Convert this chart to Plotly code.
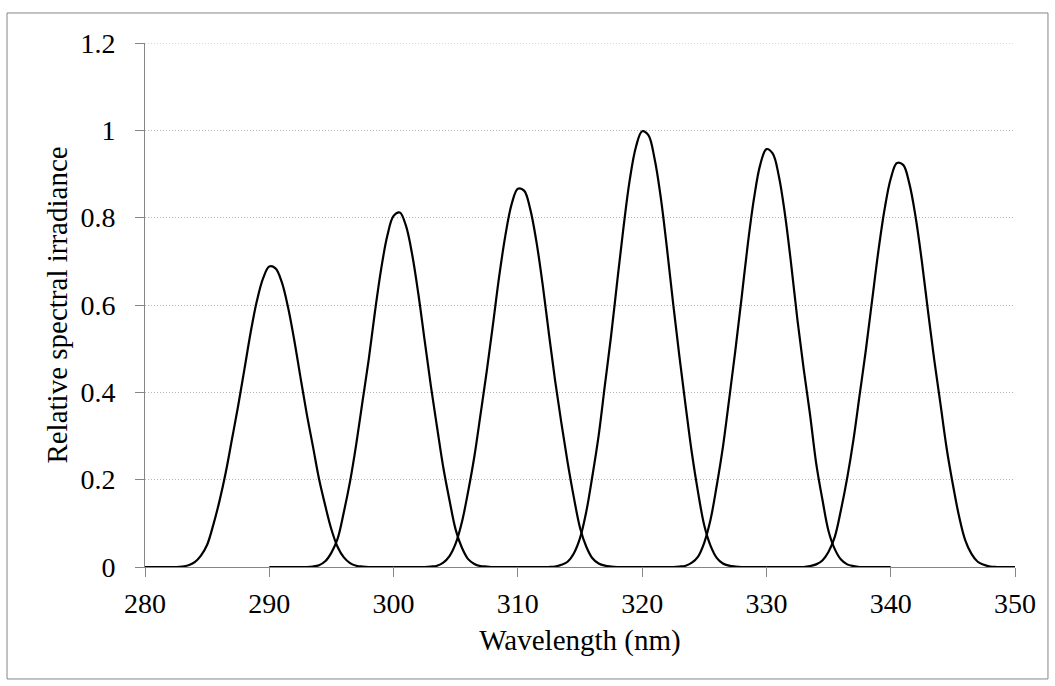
import plotly.graph_objects as go

# Wavelength grids (nm), 0.5 nm spacing, one 20 nm window per band
wl_1 = [280 + 0.5 * i for i in range(41)]
wl_2 = [290 + 0.5 * i for i in range(41)]
wl_3 = [300 + 0.5 * i for i in range(41)]
wl_4 = [310 + 0.5 * i for i in range(41)]
wl_5 = [320 + 0.5 * i for i in range(41)]
wl_6 = [330 + 0.5 * i for i in range(41)]

# Relative spectral irradiance of each band
irr_1 = [0, 0, 0, 0, 0, 0,
         0.001, 0.004, 0.011, 0.026, 0.051, 0.097, 0.152, 0.217, 0.293, 0.370,
         0.453, 0.537, 0.609, 0.661, 0.688, 0.684, 0.653, 0.596, 0.521, 0.436,
         0.353, 0.278, 0.202, 0.141, 0.086, 0.046, 0.022, 0.009, 0.003, 0.001,
         0, 0, 0, 0, 0]
irr_2 = [0, 0, 0, 0, 0, 0, 0,
         0.001, 0.004, 0.013, 0.033, 0.065, 0.126, 0.196, 0.282, 0.379, 0.475,
         0.584, 0.682, 0.759, 0.804, 0.812, 0.781, 0.715, 0.624, 0.519, 0.415,
         0.320, 0.228, 0.153, 0.085, 0.044, 0.018, 0.007, 0.002, 0.001,
         0, 0, 0, 0, 0]
irr_3 = [0, 0, 0, 0, 0, 0,
         0.001, 0.003, 0.010, 0.025, 0.054, 0.103, 0.173, 0.253, 0.350, 0.449,
         0.556, 0.666, 0.760, 0.831, 0.866, 0.862, 0.819, 0.744, 0.646, 0.534,
         0.426, 0.330, 0.240, 0.160, 0.090, 0.047, 0.020, 0.008, 0.003, 0.001,
         0, 0, 0, 0, 0]
irr_4 = [0, 0, 0, 0, 0, 0,
         0.001, 0.005, 0.012, 0.031, 0.066, 0.126, 0.209, 0.301, 0.416, 0.529,
         0.655, 0.778, 0.886, 0.962, 0.998, 0.989, 0.935, 0.846, 0.729, 0.602,
         0.482, 0.369, 0.261, 0.171, 0.095, 0.049, 0.021, 0.008, 0.003, 0.001,
         0, 0, 0, 0, 0]
irr_5 = [0, 0, 0, 0, 0, 0,
         0.001, 0.003, 0.010, 0.024, 0.056, 0.108, 0.186, 0.275, 0.384, 0.496,
         0.616, 0.739, 0.844, 0.921, 0.957, 0.947, 0.895, 0.806, 0.691, 0.565,
         0.453, 0.351, 0.238, 0.155, 0.082, 0.041, 0.017, 0.006, 0.002, 0,
         0, 0, 0, 0, 0]
irr_6 = [0, 0, 0, 0, 0, 0, 0,
         0.002, 0.006, 0.015, 0.035, 0.069, 0.131, 0.204, 0.291, 0.394, 0.497,
         0.610, 0.722, 0.818, 0.889, 0.925, 0.921, 0.878, 0.802, 0.701, 0.586,
         0.475, 0.374, 0.272, 0.189, 0.116, 0.061, 0.030, 0.012, 0.005, 0.001,
         0, 0, 0, 0]

x_ticks = [280, 290, 300, 310, 320, 330, 340, 350]
y_ticks = [0, 0.2, 0.4, 0.6, 0.8, 1, 1.2]
y_labels = ["0", "0.2", "0.4", "0.6", "0.8", "1", "1.2"]

FONT = "Liberation Serif, Times New Roman, serif"
AXIS_GREY = "#868686"
GRID_GREY = "#b4b4b4"
GRID_DASH = "1px,2px"
TICK_SIZE = 28
TITLE_SIZE = 29

fig = go.Figure()
for wl, irr in [(wl_1, irr_1), (wl_2, irr_2), (wl_3, irr_3),
                (wl_4, irr_4), (wl_5, irr_5), (wl_6, irr_6)]:
    fig.add_trace(go.Scatter(
        x=wl, y=irr, mode="lines",
        line=dict(color="black", width=2.2, shape="spline", smoothing=1.0),
        showlegend=False, hoverinfo="x+y",
    ))

fig.update_xaxes(
    range=[280, 350], tickvals=x_ticks, ticks="outside", ticklen=9,
    tickcolor=AXIS_GREY, tickwidth=1, showline=True, linecolor=AXIS_GREY,
    linewidth=1, showgrid=False, zeroline=False, ticklabelstandoff=2,
    tickfont=dict(family=FONT, size=TICK_SIZE, color="black"),
    title=dict(text="Wavelength (nm)",
               font=dict(family=FONT, size=TITLE_SIZE, color="black"),
               standoff=12),
)
fig.update_yaxes(
    range=[0, 1.2], tickvals=y_ticks, ticktext=y_labels, ticks="outside",
    ticklen=9, tickcolor=AXIS_GREY, tickwidth=1, showline=True,
    linecolor=AXIS_GREY, linewidth=1, showgrid=True, gridcolor=GRID_GREY,
    griddash=GRID_DASH, gridwidth=1, zeroline=False, ticklabelstandoff=14,
    tickfont=dict(family=FONT, size=TICK_SIZE, color="black"),
    title=dict(text="Relative spectral irradiance",
               font=dict(family=FONT, size=TITLE_SIZE, color="black"),
               standoff=4),
)

# Gridline at the top of the value range (plotly skips the edge gridline)
fig.add_shape(type="line", xref="paper", yref="y", x0=0, x1=1,
              y0=y_ticks[-1], y1=y_ticks[-1], layer="below",
              line=dict(color=GRID_GREY, width=1, dash=GRID_DASH))

# Chart-area frame
fig.add_shape(type="rect", xref="paper", yref="paper",
              x0=-0.1586, x1=1.0379, y0=-0.2137, y1=1.0573,
              line=dict(color=AXIS_GREY, width=1), fillcolor="rgba(0,0,0,0)")

fig.update_layout(
    width=1055, height=686,
    margin=dict(l=145, r=40, t=43, b=119),
    plot_bgcolor="white", paper_bgcolor="white",
    font=dict(family=FONT, color="black"),
)

fig.write_html("out.html")
